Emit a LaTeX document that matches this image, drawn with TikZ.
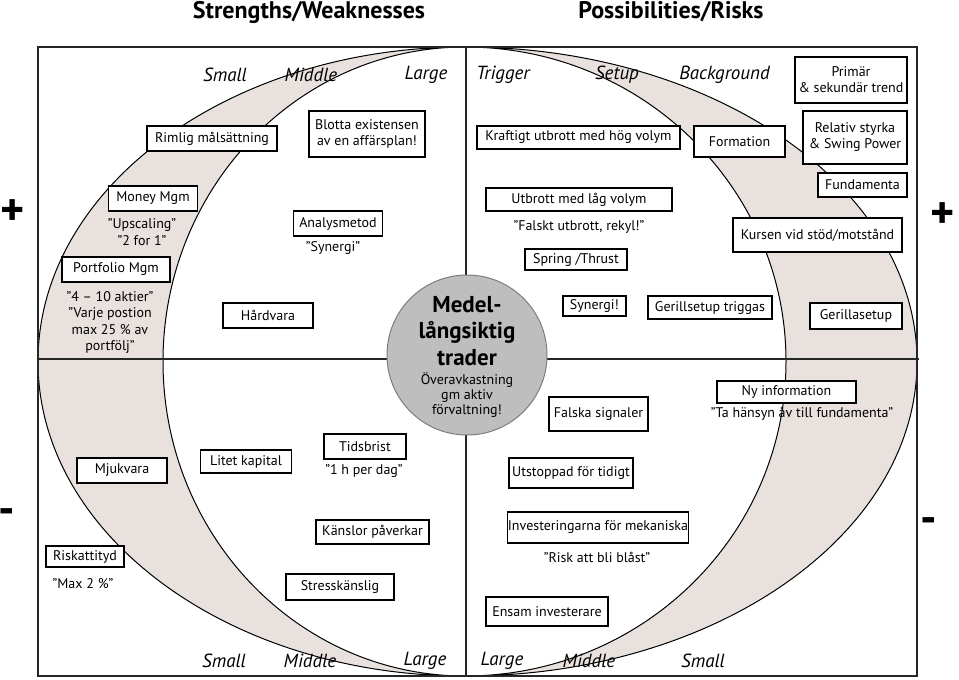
\documentclass[tikz,border=0pt]{standalone}
\usepackage{fontspec}
\setmainfont{PT Sans}
\definecolor{cres}{RGB}{232,225,221}
\definecolor{circ}{RGB}{190,190,190}
\definecolor{circb}{RGB}{125,125,125}
\begin{document}
\begin{tikzpicture}[x=1pt,y=-1pt,
  bx/.style={draw=black, line width=1.1pt, fill=white, inner sep=0pt, align=center, font=\fontsize{14}{16}\selectfont},
  qt/.style={inner sep=0pt, align=center, font=\fontsize{14}{16.3}\selectfont},
  ax/.style={inner sep=0pt, font=\fontsize{19}{21}\selectfont\itshape},
  ttl/.style={inner sep=0pt, font=\fontsize{24}{26}\selectfont\bfseries},
  sgn/.style={inner sep=0pt, font=\fontsize{46}{46}\selectfont\bfseries}]
\useasboundingbox (0,0) rectangle (959,680);
\fill[white] (0,0) rectangle (959,680);
% crescents
\filldraw[fill=cres, draw=black, line width=1pt] (465,47) arc[start angle=90, end angle=270, x radius=427pt, y radius=314.5pt] arc[start angle=270, end angle=90, x radius=302pt, y radius=314.5pt] -- cycle;
\filldraw[fill=cres, draw=black, line width=1pt] (465,47) arc[start angle=90, end angle=-90, x radius=452pt, y radius=314.5pt] arc[start angle=-90, end angle=90, x radius=321pt, y radius=314.5pt] -- cycle;
% frame and axes
\draw[line width=1.2pt, draw=black!85] (38,47) rectangle (917,676);
\draw[line width=1.2pt, draw=black!85] (38,359) -- (919,359);
\draw[line width=1.2pt, draw=black!85] (466,47) -- (466,676);
% titles and signs
\node[ttl] (t1) at (309,12) {Strengths/Weaknesses};
\node[ttl] (t2) at (671,12) {Possibilities/Risks};
\node[sgn] (p1) at (13,213) {+};
\node[sgn] (p2) at (943,216) {+};
\node[sgn] (m1) at (7,517) {-};
\node[sgn] (m2) at (929,526) {-};
% axis labels
\node[ax] (a1) at (225,75) {Small};
\node[ax] (a2) at (311,75) {Middle};
\node[ax] (a3) at (426,75) {Large};
\node[ax] (a4) at (503,75) {Trigger};
\node[ax] (a5) at (617,75) {Setup};
\node[ax] (a6) at (724.5,75) {Background};
\node[ax] (b1) at (224,661) {Small};
\node[ax] (b2) at (310,661) {Middle};
\node[ax] (b3) at (425,661) {Large};
\node[ax] (b4) at (502,661) {Large};
\node[ax] (b5) at (589,661) {Middle};
\node[ax] (b6) at (703,661) {Small};
% centre
\node[circle, draw=circb, fill=circ, line width=1pt, minimum size=160pt, inner sep=0pt] (ctr) at (467,355) {};
\node[inner sep=0pt, align=center, font=\fontsize{23}{26.5}\selectfont\bfseries] (ctra) at (467,331) {Medel-\\långsiktig\\trader};
\node[inner sep=0pt, align=center, font=\fontsize{14}{15}\selectfont] (ctrb) at (467,395) {Överavkastning\\gm aktiv\\förvaltning!};
% left half
\node[bx, minimum width=130pt, minimum height=25pt] (rim) at (212,138.5) {Rimlig målsättning};
\node[bx, minimum width=116pt, minimum height=46pt] (blo) at (367,134) {Blotta existensen\\av en affärsplan!};
\node[bx, minimum width=89pt, minimum height=25pt] (mon) at (153,198.5) {Money Mgm};
\node[qt] (ups) at (142,232) {”Upscaling”\\”2 for 1”};
\node[bx, minimum width=89pt, minimum height=25pt] (ana) at (338,223.5) {Analysmetod};
\node[qt] (syn) at (333,248) {”Synergi”};
\node[bx, minimum width=108pt, minimum height=25pt] (por) at (116,269.5) {Portfolio Mgm};
\node[qt] (akt) at (110,322.5) {”4 – 10 aktier”\\”Varje postion\\max 25 \% av\\portfölj”};
\node[bx, minimum width=90pt, minimum height=25pt] (har) at (268,315.5) {Hårdvara};
\node[bx, minimum width=90pt, minimum height=25pt] (mju) at (122,470.5) {Mjukvara};
\node[bx, minimum width=91pt, minimum height=23pt] (lit) at (246,461.5) {Litet kapital};
\node[bx, minimum width=82pt, minimum height=25pt] (tid) at (365,446.5) {Tidsbrist};
\node[qt] (hpd) at (364,471) {”1 h per dag”};
\node[bx, minimum width=113pt, minimum height=24pt] (kan) at (372.5,532) {Känslor påverkar};
\node[bx, minimum width=78pt, minimum height=21pt] (ris) at (85,556.5) {Riskattityd};
\node[qt] (max) at (83,584) {”Max 2 \%”};
\node[bx, minimum width=108pt, minimum height=26pt] (str) at (340,587) {Stresskänslig};
% right half
\node[bx, minimum width=203pt, minimum height=23pt] (kra) at (578.5,137.5) {Kraftigt utbrott med hög volym};
\node[bx, minimum width=91pt, minimum height=31pt] (for) at (739.5,141.5) {Formation};
\node[bx, minimum width=112pt, minimum height=46pt] (pri) at (851,80) {Primär\\\& sekundär trend};
\node[bx, minimum width=104pt, minimum height=53pt] (rel) at (855,137.5) {Relativ styrka\\\& Swing Power};
\node[bx, minimum width=89pt, minimum height=24pt] (fun) at (862.5,185) {Fundamenta};
\node[bx, minimum width=186pt, minimum height=23pt] (utb) at (579,199.5) {Utbrott med låg volym};
\node[qt] (fal) at (579,227) {”Falskt utbrott, rekyl!”};
\node[bx, minimum width=102pt, minimum height=21pt] (spr) at (576,259.5) {Spring /Thrust};
\node[bx, minimum width=169pt, minimum height=34pt] (kur) at (817.5,235) {Kursen vid stöd/motstånd};
\node[bx, minimum width=63pt, minimum height=20pt] (syg) at (594.5,306) {Synergi!};
\node[bx, minimum width=124pt, minimum height=23pt] (ger) at (710,307.5) {Gerillsetup triggas};
\node[bx, minimum width=92pt, minimum height=26pt] (gsu) at (856,316) {Gerillasetup};
\node[bx, minimum width=139pt, minimum height=22pt] (nyi) at (786.5,392) {Ny information};
\node[qt] (tah) at (802,414) {”Ta hänsyn åv till fundamenta”};
\node[bx, minimum width=99pt, minimum height=34pt] (fsi) at (598.5,414) {Falska signaler};
\node[bx, minimum width=124pt, minimum height=30pt] (uts) at (571,473) {Utstoppad för tidigt};
\node[bx, minimum width=178pt, minimum height=31pt] (inv) at (598,527.5) {Investeringarna för mekaniska};
\node[qt] (rab) at (597,557) {”Risk att bli blåst”};
\node[bx, minimum width=122pt, minimum height=29pt] (ens) at (547,611.5) {Ensam investerare};
\end{tikzpicture}
\end{document}
